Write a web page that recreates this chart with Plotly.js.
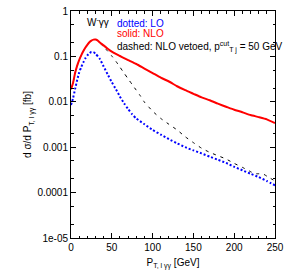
<!DOCTYPE html>
<html>
<head>
<meta charset="utf-8">
<script src="https://cdn.plot.ly/plotly-3.0.1.min.js"></script>
<style>html,body{margin:0;padding:0;background:#fff;}#chart{width:289px;height:279px;}</style>
</head>
<body>
<div id="chart"></div>
<script>
// NLO (solid red)
const nloX = [0,2.5,5,7.5,10,12.5,15,17.5,20,22.5,25,27.5,30,32.5,35,40,45,50,55,60,65,70,80,90,100,110,120,130,140,150,160,170,180,190,200,210,220,230,240,250];
const nloY = [0.019,0.026,0.043,0.062,0.083,0.105,0.13,0.155,0.18,0.205,0.223,0.234,0.236,0.226,0.205,0.175,0.148,0.127,0.113,0.102,0.092,0.083,0.068,0.054,0.043,0.034,0.028,0.022,0.018,0.015,0.0125,0.0108,0.0091,0.0078,0.0067,0.0059,0.0051,0.0046,0.0041,0.0034];
// NLO vetoed (dashed black)
const vetoX = [0,2.5,5,7.5,10,12.5,15,17.5,20,22.5,25,27.5,30,32.5,35,40,45,50,55,60,65,70,75,80,85,90,95,100,110,120,130,140,150,160,170,180,190,200,210,220,225,230,235,240,250];
const vetoY = [0.019,0.026,0.043,0.062,0.083,0.105,0.13,0.155,0.18,0.205,0.223,0.234,0.236,0.222,0.2,0.163,0.13,0.102,0.078,0.058,0.043,0.032,0.024,0.018,0.0135,0.0098,0.0078,0.0062,0.0043,0.0032,0.0024,0.0017,0.00126,0.00095,0.00077,0.00065,0.00055,0.00044,0.00036,0.00029,0.00026,0.00026,0.00026,0.00023,0.00018];
// LO (dotted blue)
const loX = [0,2.5,5,7.5,10,12.5,15,17.5,20,22.5,25,27.5,30,35,40,45,50,55,60,65,70,75,80,90,100,110,120,130,140,150,160,170,180,190,200,210,220,230,240,250];
const loY = [0.0085,0.012,0.019,0.03,0.044,0.058,0.073,0.09,0.105,0.117,0.125,0.124,0.115,0.09,0.06,0.04,0.027,0.019,0.013,0.0093,0.0069,0.0053,0.0043,0.0032,0.0024,0.0019,0.0015,0.00122,0.001,0.00085,0.00073,0.00062,0.00053,0.00045,0.00037,0.00031,0.00026,0.00022,0.00018,0.000145];

const yTickVals = [1e-5,1e-4,1e-3,1e-2,0.1,1];
const yTickText = ['1e-05','0.0001','0.001','0.01','0.1','1'];
const xTickVals = [0,50,100,150,200,250];

const traces = [
  {x: vetoX, y: vetoY, mode:'lines', line:{color:'#000000', width:1, dash:'3px,5px', shape:'spline', smoothing:0.5}, showlegend:false},
  {x: nloX, y: nloY, mode:'lines', line:{color:'#ff0000', width:2, shape:'spline', smoothing:0.5}, showlegend:false},
  {x: loX, y: loY, mode:'lines', line:{color:'#0000ff', width:2, dash:'2px,2px', shape:'spline', smoothing:0.5}, showlegend:false}
];

const font = {family:'"Liberation Sans", Arial, sans-serif', size:10, color:'#000'};

const layout = {
  width:289, height:279,
  margin:{l:71, r:14, t:11, b:41},
  paper_bgcolor:'#fff', plot_bgcolor:'#fff',
  font: font,
  showlegend:false,
  xaxis:{
    range:[0,250], tickvals:xTickVals, ticks:'inside', ticklen:5, tickcolor:'#000',
    showline:true, linecolor:'#000', linewidth:1, mirror:'allticks', showgrid:false, zeroline:false,
    tickfont:{family:font.family, size:10, color:'#000'},
    minor:{dtick:10, ticks:'inside', ticklen:2.5, tickcolor:'#000', showgrid:false},
    title:{text:'P<sub>T, l γγ</sub> [GeV]', font:{family:font.family, size:10, color:'#000'}, standoff:6}
  },
  yaxis:{
    type:'log', range:[-5,0], tickvals:yTickVals, ticktext:yTickText, ticks:'inside', ticklen:5, tickcolor:'#000',
    showline:true, linecolor:'#000', linewidth:1, mirror:'allticks', showgrid:false, zeroline:false,
    tickfont:{family:font.family, size:10, color:'#000'},
    minor:{ticks:'inside', ticklen:2.5, tickcolor:'#000', showgrid:false},
    title:{text:'d σ/d P<sub>T, l γγ</sub> [fb]', font:{family:font.family, size:10, color:'#000'}, standoff:3}
  },
  annotations:[
    {xref:'paper', yref:'paper', x:0.075, y:0.95, xanchor:'left', yanchor:'middle', showarrow:false, borderpad:0,
     text:'W<sup>-</sup>γγ', font:{family:font.family, size:10, color:'#000'}},
    {xref:'paper', yref:'paper', x:0.22, y:0.947, xanchor:'left', yanchor:'middle', showarrow:false, borderpad:0,
     text:'dotted: LO', font:{family:font.family, size:10, color:'#0000ff'}},
    {xref:'paper', yref:'paper', x:0.22, y:0.899, xanchor:'left', yanchor:'middle', showarrow:false, borderpad:0,
     text:'solid: NLO', font:{family:font.family, size:10, color:'#ff0000'}},
    {xref:'paper', yref:'paper', x:0.22, y:0.843, xanchor:'left', yanchor:'middle', showarrow:false, borderpad:0,
     text:'dashed: NLO vetoed, p<sup>cut</sup><sub>T j</sub> = 50 GeV', font:{family:font.family, size:10, color:'#000'}}
  ]
};

Plotly.newPlot('chart', traces, layout, {displayModeBar:false, staticPlot:true});
</script>
</body>
</html>
